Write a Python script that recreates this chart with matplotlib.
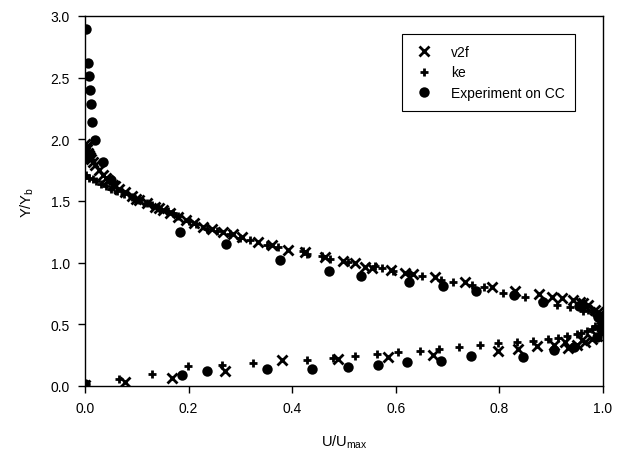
import matplotlib
matplotlib.use('Agg')
import matplotlib.pyplot as plt

plt.rcParams['font.family'] = ['Liberation Sans', 'DejaVu Sans']

# v2f model (x markers)
v2f_x = [0.0, 0.003, 0.006, 0.010, 0.015, 0.020, 0.027, 0.035, 0.045, 0.055,
         0.065, 0.078, 0.090, 0.105, 0.120, 0.135, 0.150, 0.165, 0.180, 0.195,
         0.210, 0.228, 0.245, 0.266, 0.285, 0.303, 0.334, 0.361, 0.392, 0.425,
         0.463, 0.498, 0.521, 0.541, 0.618, 0.634, 0.676, 0.734, 0.786, 0.830,
         0.876, 0.921, 0.956, 0.971, 0.985, 0.994, 0.998, 0.999, 0.998, 0.994,
         0.988, 0.979, 0.965, 0.950, 0.932, 0.927, 0.873, 0.836, 0.797, 0.672,
         0.585, 0.488, 0.380, 0.270, 0.168, 0.077, 0.0,
         0.001, 0.008, 0.012, 0.040, 0.058, 0.098, 0.142, 0.555, 0.590, 0.902,
         0.942, 0.962, 0.990, 0.905, 0.960]
v2f_y = [1.96, 1.92, 1.89, 1.86, 1.82, 1.79, 1.75, 1.71, 1.67, 1.63,
         1.60, 1.57, 1.54, 1.51, 1.48, 1.45, 1.43, 1.40, 1.37, 1.35,
         1.32, 1.29, 1.27, 1.25, 1.23, 1.21, 1.17, 1.14, 1.10, 1.09,
         1.05, 1.01, 1.00, 0.965, 0.915, 0.91, 0.88, 0.84, 0.80, 0.77,
         0.745, 0.71, 0.68, 0.66, 0.62, 0.58, 0.56, 0.52, 0.48, 0.44,
         0.405, 0.38, 0.357, 0.333, 0.31, 0.355, 0.325, 0.30, 0.285, 0.25,
         0.235, 0.22, 0.21, 0.12, 0.065, 0.03, 0.01,
         1.94, 1.87, 1.84, 1.69, 1.62, 1.52, 1.44, 0.955, 0.94, 0.725,
         0.695, 0.67, 0.60, 0.33, 0.37]

# k-epsilon model (+ markers)
ke_x = [0.002, 0.008, 0.015, 0.022, 0.030, 0.040, 0.050, 0.062, 0.075, 0.090,
        0.105, 0.120, 0.140, 0.160, 0.180, 0.200, 0.215, 0.235, 0.280, 0.318,
        0.351, 0.373, 0.421, 0.429, 0.457, 0.473, 0.508, 0.560, 0.573, 0.595,
        0.650, 0.710, 0.747, 0.807, 0.850, 0.911, 0.936, 0.961, 0.980, 0.990,
        0.996, 0.994, 0.985, 0.969, 0.950, 0.930, 0.913, 0.894, 0.865, 0.834,
        0.797, 0.763, 0.722, 0.683, 0.647, 0.604, 0.564, 0.521, 0.479, 0.429,
        0.325, 0.264, 0.199, 0.130, 0.066, 0.0,
        0.097, 0.130, 0.170, 0.255, 0.300, 0.625, 0.688, 0.770, 0.882, 0.972,
        0.978, 0.957]
ke_y = [1.71, 1.69, 1.675, 1.66, 1.64, 1.62, 1.60, 1.58, 1.56, 1.53,
        1.505, 1.48, 1.45, 1.42, 1.38, 1.34, 1.31, 1.27, 1.23, 1.18,
        1.14, 1.13, 1.095, 1.07, 1.055, 1.03, 1.005, 0.97, 0.955, 0.935,
        0.89, 0.84, 0.82, 0.755, 0.72, 0.655, 0.64, 0.61, 0.60, 0.56,
        0.52, 0.545, 0.49, 0.445, 0.42, 0.405, 0.39, 0.38, 0.365, 0.357,
        0.35, 0.33, 0.315, 0.30, 0.285, 0.275, 0.26, 0.245, 0.23, 0.21,
        0.19, 0.17, 0.16, 0.10, 0.055, 0.0,
        1.52, 1.47, 1.40, 1.26, 1.20, 0.915, 0.86, 0.80, 0.69, 0.62,
        0.465, 0.43]

# experiment on CC (filled circles)
exp_x = [0.002, 0.006, 0.008, 0.010, 0.012, 0.014, 0.019, 0.035, 0.050, 0.183,
         0.272, 0.376, 0.471, 0.533, 0.625, 0.691, 0.755, 0.828, 0.884, 0.954,
         0.990, 0.996, 0.988, 0.944, 0.905, 0.846, 0.745, 0.687, 0.622, 0.566,
         0.508, 0.438, 0.351, 0.236, 0.187, 0.0]
exp_y = [2.895, 2.62, 2.51, 2.40, 2.29, 2.14, 1.995, 1.82, 1.67, 1.25,
         1.15, 1.02, 0.93, 0.89, 0.84, 0.81, 0.77, 0.74, 0.68, 0.65,
         0.56, 0.48, 0.40, 0.32, 0.29, 0.235, 0.245, 0.20, 0.195, 0.17,
         0.155, 0.14, 0.14, 0.12, 0.09, 0.015]

fig = plt.figure(figsize=(6.24, 4.52), dpi=100)
ax = fig.add_axes([85 / 624, 65 / 452, 518 / 624, 370 / 452])

ax.plot(v2f_x, v2f_y, linestyle='none', marker='x', color='black',
        markersize=6.5, markeredgewidth=2.0, label='v2f')
ax.plot(ke_x, ke_y, linestyle='none', marker='+', color='black',
        markersize=6.0, markeredgewidth=2.0, label='ke')
ax.plot(exp_x, exp_y, linestyle='none', marker='o', color='black',
        markersize=7.5, markeredgewidth=0, label='Experiment on CC')

ax.set_xlim(0, 1.0)
ax.set_ylim(0, 3.0)
ax.set_xticks([0.0, 0.2, 0.4, 0.6, 0.8, 1.0])
ax.set_yticks([0.0, 0.5, 1.0, 1.5, 2.0, 2.5, 3.0])
ax.set_xticklabels(['0.0', '0.2', '0.4', '0.6', '0.8', '1.0'])
ax.set_yticklabels(['0.0', '0.5', '1.0', '1.5', '2.0', '2.5', '3.0'])
ax.tick_params(direction='out', length=5, width=1, labelsize=10, pad=6)
for s in ax.spines.values():
    s.set_linewidth(1)

ax.set_xlabel('U/U$_{\\mathregular{max}}$', fontsize=10.5, labelpad=12)
ax.set_ylabel('Y/Y$_{\\mathregular{b}}$', fontsize=10.5, labelpad=10)

leg = ax.legend(loc='upper left', bbox_to_anchor=(0.612, 0.951),
                fancybox=False, edgecolor='black', framealpha=1,
                fontsize=10, borderpad=0.8, labelspacing=0.45,
                handletextpad=1.2, handlelength=1.5, borderaxespad=0)
leg.get_frame().set_linewidth(0.8)

fig.savefig('out.png', dpi=100)
